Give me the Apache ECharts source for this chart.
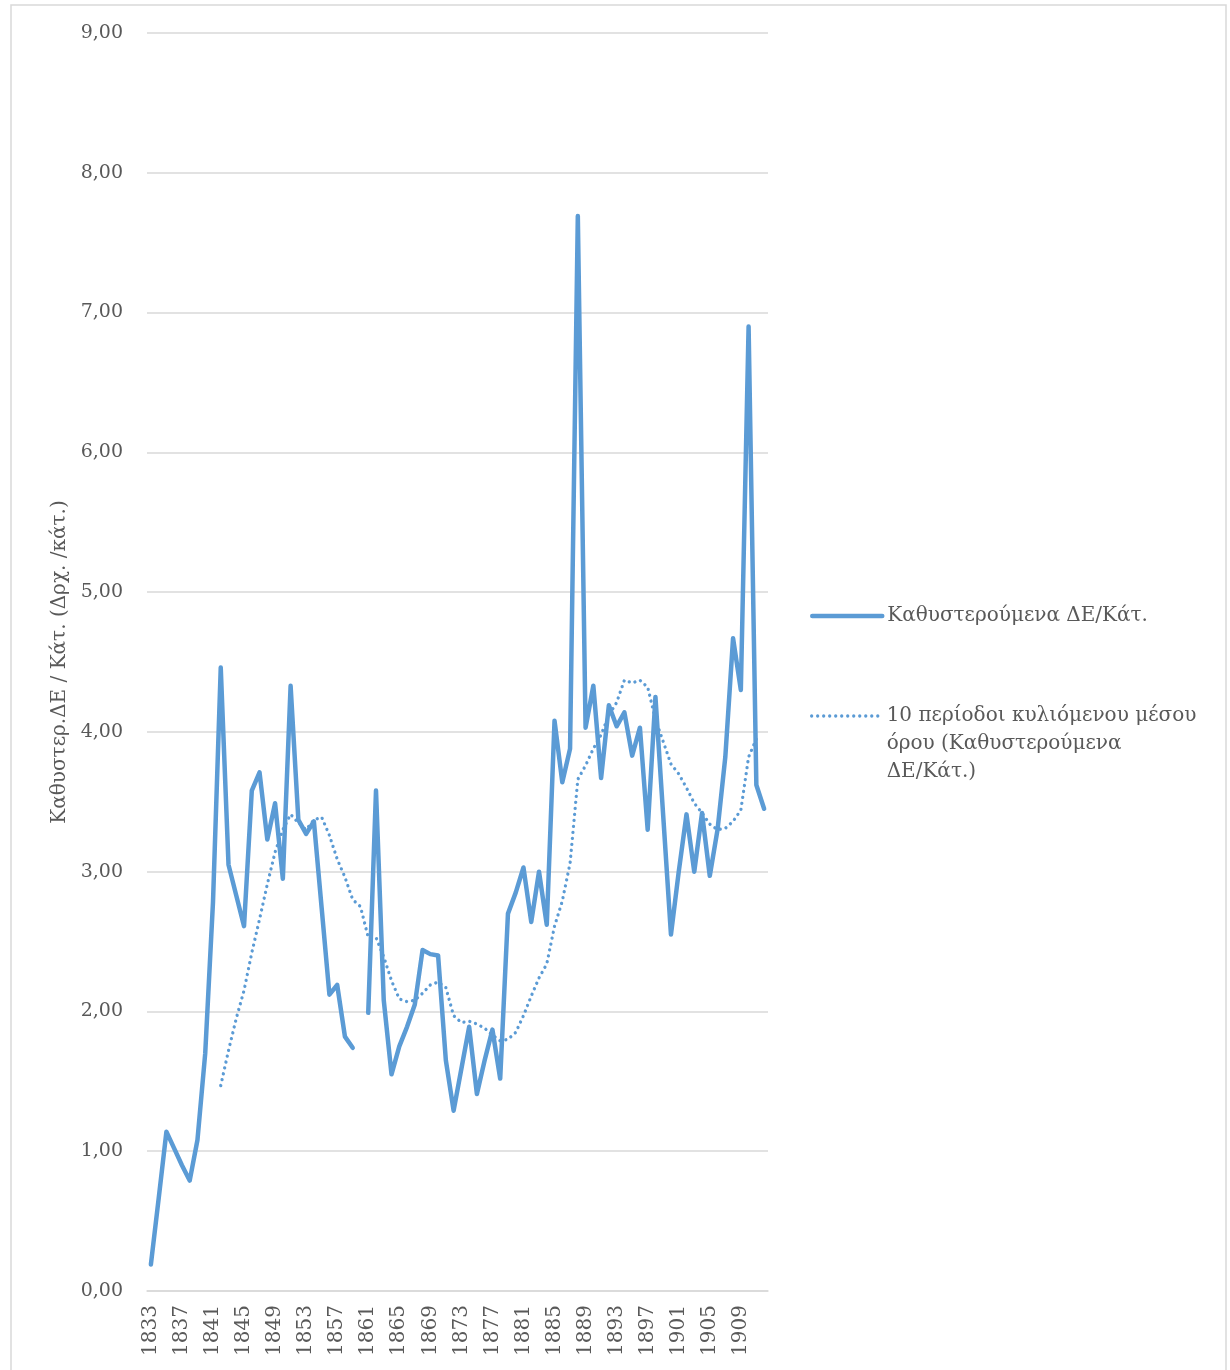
<!DOCTYPE html>
<html>
<head>
<meta charset="utf-8">
<script src="https://cdn.jsdelivr.net/npm/echarts@6/dist/echarts.min.js"></script>
<style>
  html, body { margin: 0; padding: 0; background: #ffffff; }
  #chart { width: 1230px; height: 1370px; }
</style>
</head>
<body>
<div id="chart"></div>
<script>
// Years 1833–1912
const years = [];
for (let y = 1833; y <= 1912; y++) years.push(String(y));

// Καθυστερούμενα ΔΕ/Κάτ. (no figure for 1860)
const arrears = [
  0.19, 0.66, 1.14, 1.02, 0.90, 0.79, 1.08, 1.70, 2.78, 4.46,
  3.05, 2.83, 2.61, 3.58, 3.71, 3.23, 3.49, 2.95, 4.33, 3.37,
  3.27, 3.36, 2.74, 2.12, 2.19, 1.82, 1.74, null, 1.99, 3.58,
  2.08, 1.55, 1.75, 1.89, 2.05, 2.44, 2.41, 2.40, 1.65, 1.29,
  1.59, 1.89, 1.41, 1.65, 1.87, 1.52, 2.70, 2.85, 3.03, 2.64,
  3.00, 2.62, 4.08, 3.64, 3.88, 7.69, 4.03, 4.33, 3.67, 4.19,
  4.04, 4.14, 3.83, 4.03, 3.30, 4.25, 3.40, 2.55, 3.00, 3.41,
  3.00, 3.42, 2.97, 3.30, 3.82, 4.67, 4.30, 6.90, 3.62, 3.45
];

// 10-period moving average, 1842–1911
const movingAvg = [
  null, null, null, null, null, null, null, null, null, 1.47,
  1.72, 1.95, 2.15, 2.42, 2.66, 2.91, 3.14, 3.30, 3.41, 3.35,
  3.30, 3.37, 3.39, 3.26, 3.09, 2.96, 2.80, 2.75, 2.53, 2.53,
  2.39, 2.22, 2.09, 2.07, 2.08, 2.13, 2.19, 2.21, 2.17, 1.97,
  1.92, 1.93, 1.91, 1.88, 1.83, 1.79, 1.80, 1.85, 1.97, 2.11,
  2.24, 2.34, 2.61, 2.79, 3.06, 3.66, 3.76, 3.88, 3.98, 4.12,
  4.21, 4.37, 4.35, 4.37, 4.32, 4.09, 3.93, 3.77, 3.70, 3.60,
  3.49, 3.42, 3.34, 3.30, 3.31, 3.36, 3.44, 3.82, 3.95, null
];

const yTicks = { min: 0, max: 9, interval: 1 };

const seriesNames = [
  'Καθυστερούμενα ΔΕ/Κάτ.',
  '10 περίοδοι κυλιόμενου μέσου όρου (Καθυστερούμενα ΔΕ/Κάτ.)'
];
// legend text; the second entry wraps onto three lines, with its first line level with the key
const legendLines = {
  [seriesNames[0]]: 'Καθυστερούμενα ΔΕ/Κάτ.',
  [seriesNames[1]]: '\n\n10 περίοδοι κυλιόμενου μέσου\nόρου (Καθυστερούμενα\nΔΕ/Κάτ.)'
};

const FONT = 'DejaVu Serif';
const TEXT = '#595959';
const BLUE = '#5B9BD5';
const GRID = '#D9D9D9';

const SOLID = { color: BLUE, width: 4.5, cap: 'round', join: 'round' };
const DOTTED = { color: BLUE, width: 3.3, type: [0.01, 6], cap: 'round', join: 'round' };

const legendBase = {
  orient: 'vertical',
  left: 810,
  padding: 0,
  itemWidth: 70,
  itemHeight: 6,
  itemGap: 0,
  formatter: n => legendLines[n],
  itemStyle: { color: 'rgba(0,0,0,0)', borderColor: 'rgba(0,0,0,0)', borderWidth: 0 },
  textStyle: { fontFamily: FONT, fontSize: 20, color: TEXT, lineHeight: 28 }
};

const chart = echarts.init(document.getElementById('chart'), null, { renderer: 'canvas' });

chart.setOption({
  backgroundColor: '#ffffff',
  animation: false,
  textStyle: { fontFamily: FONT, color: TEXT },
  graphic: [{
    type: 'rect',
    shape: { x: 11, y: 5, width: 1215, height: 1400 },
    style: { fill: 'none', stroke: GRID, lineWidth: 1.5 },
    silent: true
  }],
  grid: { left: 147, right: 462, top: 33, bottom: 79 },
  legend: [
    Object.assign({}, legendBase, {
      data: [seriesNames[0]],
      top: 602,
      lineStyle: SOLID
    }),
    Object.assign({}, legendBase, {
      data: [seriesNames[1]],
      top: 646,
      lineStyle: DOTTED
    })
  ],
  xAxis: {
    type: 'category',
    data: years,
    boundaryGap: true,
    axisLine: { show: true, lineStyle: { color: GRID, width: 1.5 } },
    axisTick: { show: false },
    axisLabel: {
      interval: 3,
      rotate: 90,
      margin: 14,
      fontFamily: FONT,
      fontSize: 20,
      color: TEXT
    }
  },
  yAxis: {
    type: 'value',
    min: yTicks.min,
    max: yTicks.max,
    interval: yTicks.interval,
    name: 'Καθυστερ.ΔΕ / Κάτ. (Δρχ. /κάτ.)',
    nameLocation: 'middle',
    nameRotate: 90,
    nameGap: 75,
    nameTextStyle: { fontFamily: FONT, fontSize: 20, color: TEXT },
    axisLine: { show: false },
    axisTick: { show: false },
    splitLine: { lineStyle: { color: GRID, width: 1.5 } },
    axisLabel: {
      margin: 24,
      fontFamily: FONT,
      fontSize: 19,
      color: TEXT,
      formatter: v => v.toFixed(2).replace('.', ',')
    }
  },
  series: [{
    name: seriesNames[0],
    type: 'line',
    data: arrears,
    symbol: 'none',
    connectNulls: false,
    lineStyle: SOLID,
    itemStyle: { color: BLUE },
    z: 3
  }, {
    name: seriesNames[1],
    type: 'line',
    data: movingAvg,
    symbol: 'none',
    connectNulls: false,
    lineStyle: DOTTED,
    itemStyle: { color: BLUE },
    z: 2
  }]
});
</script>
</body>
</html>
